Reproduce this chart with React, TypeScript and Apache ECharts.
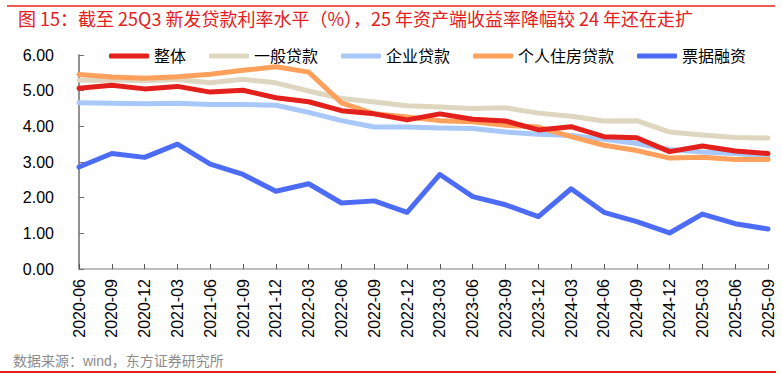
import React, { useEffect, useRef } from "react";
import * as echarts from "echarts";

const categories = [
  "2020-06", "2020-09", "2020-12", "2021-03", "2021-06", "2021-09", "2021-12",
  "2022-03", "2022-06", "2022-09", "2022-12", "2023-03", "2023-06", "2023-09",
  "2023-12", "2024-03", "2024-06", "2024-09", "2024-12", "2025-03", "2025-06", "2025-09",
];

const overall = [5.07, 5.15, 5.05, 5.12, 4.96, 5.01, 4.8, 4.69, 4.44, 4.35, 4.18, 4.35, 4.2, 4.15, 3.9, 3.99, 3.71, 3.68, 3.29, 3.45, 3.31, 3.24];
const general = [5.29, 5.3, 5.28, 5.31, 5.22, 5.32, 5.22, 4.99, 4.78, 4.68, 4.58, 4.54, 4.5, 4.52, 4.37, 4.28, 4.15, 4.16, 3.84, 3.76, 3.69, 3.67];
const corporate = [4.66, 4.65, 4.63, 4.65, 4.61, 4.61, 4.59, 4.39, 4.16, 3.98, 3.98, 3.95, 3.94, 3.84, 3.78, 3.74, 3.64, 3.52, 3.35, 3.28, 3.24, 3.17];
const mortgage = [5.45, 5.38, 5.35, 5.39, 5.46, 5.57, 5.67, 5.52, 4.66, 4.35, 4.26, 4.16, 4.13, 4.03, 3.98, 3.71, 3.47, 3.32, 3.11, 3.13, 3.07, 3.07];
const bill = [2.86, 3.24, 3.13, 3.5, 2.94, 2.65, 2.18, 2.39, 1.85, 1.91, 1.59, 2.65, 2.03, 1.8, 1.47, 2.25, 1.59, 1.33, 1.01, 1.54, 1.27, 1.12];

const seriesNames = ["整体", "一般贷款", "企业贷款", "个人住房贷款", "票据融资"];
const seriesColors = ["#E3201B", "#DFD6C0", "#A9C8FA", "#FFA05C", "#4D6CF6"];
const seriesData = [overall, general, corporate, mortgage, bill];

const titleText = "图 15：截至 25Q3 新发贷款利率水平（%），25 年资产端收益率降幅较 24 年还在走扩";
const sourceText = "数据来源：wind，东方证券研究所";

const FONT = "'Liberation Sans', 'Noto Sans CJK SC', sans-serif";

export default function App() {
  const ref = useRef<HTMLDivElement>(null);
  useEffect(() => {
    document.body.style.margin = "0";
    if (!ref.current) return;
    const chart = echarts.init(ref.current, undefined, { renderer: "svg" });
    const drawOrder = [1, 2, 3, 0, 4];
    chart.setOption({
      animation: false,
      backgroundColor: "#ffffff",
      textStyle: { fontFamily: FONT },
      legend: {
        data: seriesNames,
        left: 104,
        top: 43,
        itemWidth: 40,
        itemHeight: 5,
        itemGap: 23,
        icon: "roundRect",
        textStyle: { fontSize: 16, color: "#000", fontFamily: FONT },
      },
      grid: { left: 79, right: 14, top: 55, bottom: 109, containLabel: false },
      xAxis: {
        type: "category",
        data: categories,
        boundaryGap: false,
        axisLine: { lineStyle: { color: "#A6A6A6", width: 1.5 } },
        axisTick: { inside: true, length: 5, alignWithLabel: true, lineStyle: { color: "#595959" } },
        axisLabel: { rotate: 90, fontSize: 16, color: "#000", margin: 10, interval: 0, fontFamily: FONT },
        splitLine: { show: false },
      },
      yAxis: {
        type: "value",
        min: 0,
        max: 6,
        interval: 1,
        axisLine: { show: true, lineStyle: { color: "#6E6E6E", width: 1.5 } },
        axisTick: { show: true, inside: true, length: 5, lineStyle: { color: "#6E6E6E" } },
        axisLabel: { fontSize: 16, color: "#000", margin: 25, formatter: (v: number) => v.toFixed(2), fontFamily: FONT },
        splitLine: { show: false },
      },
      series: drawOrder.map((i) => ({
        name: seriesNames[i],
        type: "line",
        data: seriesData[i],
        showSymbol: false,
        symbol: "none",
        color: seriesColors[i],
        lineStyle: { width: 5, color: seriesColors[i], cap: "round", join: "round" },
        z: 2 + drawOrder.indexOf(i),
      })),
      graphic: [
        { type: "line", shape: { x1: 7, y1: 6, x2: 775, y2: 6 }, style: { stroke: "#EE5A55", lineWidth: 2 } },
        { type: "line", shape: { x1: 0, y1: 372, x2: 776, y2: 372 }, style: { stroke: "#E3201B", lineWidth: 2 } },
        {
          type: "text",
          left: 18,
          top: 9,
          style: { text: titleText, fill: "#E3201B", fontSize: 18, fontFamily: "'Noto Sans CJK SC', sans-serif" },
        },
        {
          type: "text",
          left: 13,
          top: 354,
          style: { text: sourceText, fill: "#8C8C8C", fontSize: 14, fontFamily: FONT },
        },
      ],
    });
    return () => chart.dispose();
  }, []);
  return <div ref={ref} style={{ width: 782, height: 378 }} />;
}
